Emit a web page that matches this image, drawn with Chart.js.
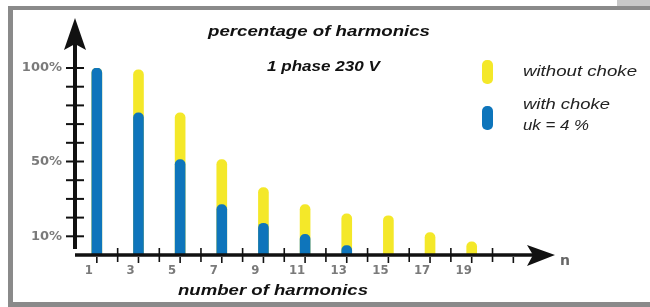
<!DOCTYPE html>
<html>
<head>
<meta charset="utf-8">
<script src="https://cdn.jsdelivr.net/npm/chart.js@4/dist/chart.umd.min.js"></script>
<style>
  html, body { margin: 0; padding: 0; background: #fff; }
  #wrap { position: relative; width: 650px; height: 307px; }
</style>
</head>
<body>
<div id="wrap"><canvas id="c" width="650" height="307"></canvas></div>
<script>
// ---- data ----
const harmonics = [1, 3, 5, 7, 9, 11, 13, 15, 17, 19];
const withoutChoke = [100, 99, 76, 51, 36, 27, 22, 21, 12, 7];
const withChoke = [100, 76, 51, 27, 17, 11, 5, null, null, null];
const yTickLabels = [10, 50, 100];
const seriesNames = ['without choke', 'with choke\nuk = 4 %'];
const titleText = 'percentage of harmonics';
const subtitleText = '1 phase 230 V';
const xTitleText = 'number of harmonics';
const xAxisName = 'n';

const YELLOW = '#f4e829';
const BLUE = '#0e75bb';

// draw text horizontally stretched to a given width (the reference type is wide)
function wideText(ctx, text, x, y, width) {
  const w = ctx.measureText(text).width;
  const sx = width / w;
  ctx.save();
  ctx.translate(x, y);
  ctx.scale(sx, 1);
  ctx.fillText(text, 0, 0);
  ctx.restore();
}

const deco = {
  id: 'deco',
  beforeDraw(chart) {
    const ctx = chart.ctx;
    ctx.save();
    ctx.fillStyle = '#fff';
    ctx.fillRect(0, 0, chart.width, chart.height);
    // frame
    ctx.fillStyle = '#8a8a8a';
    ctx.fillRect(8, 6, 642, 4);
    ctx.fillRect(8, 6, 5, 301);
    ctx.fillRect(8, 302, 642, 5);
    ctx.fillStyle = '#c8c8c8';
    ctx.fillRect(617, 0, 33, 6);
    ctx.restore();
  },
  afterDatasetsDraw(chart) {
    const ctx = chart.ctx;
    const xs = chart.scales.x, ys = chart.scales.y;
    const x0 = xs.getPixelForValue(0) - 1;
    const y0 = ys.getPixelForValue(0);
    ctx.save();
    ctx.fillStyle = '#111';
    ctx.strokeStyle = '#111';
    // y axis
    ctx.lineWidth = 4;
    ctx.beginPath();
    ctx.moveTo(x0, y0 - 6);
    ctx.lineTo(x0, 40);
    ctx.stroke();
    ctx.beginPath();
    ctx.moveTo(x0, 18);
    ctx.lineTo(x0 + 11, 50);
    ctx.lineTo(x0, 44);
    ctx.lineTo(x0 - 11, 50);
    ctx.closePath();
    ctx.fill();
    // y ticks
    ctx.lineWidth = 2;
    for (let v = 10; v <= 100; v += 10) {
      const py = ys.getPixelForValue(v);
      ctx.beginPath();
      ctx.moveTo(x0 - 9, py);
      ctx.lineTo(x0 + 9, py);
      ctx.stroke();
    }
    // x axis
    const tipX = xs.getPixelForValue(23);
    ctx.lineWidth = 3.5;
    ctx.beginPath();
    ctx.moveTo(x0, y0);
    ctx.lineTo(tipX - 20, y0);
    ctx.stroke();
    ctx.beginPath();
    ctx.moveTo(tipX, y0);
    ctx.lineTo(tipX - 28, y0 - 10);
    ctx.lineTo(tipX - 22, y0);
    ctx.lineTo(tipX - 28, y0 + 11);
    ctx.closePath();
    ctx.fill();
    // x ticks
    ctx.lineWidth = 1.6;
    for (let n = 1; n <= 21; n++) {
      const px = xs.getPixelForValue(n);
      ctx.beginPath();
      if (n % 2 === 0) {
        ctx.moveTo(px, y0 - 7);
        ctx.lineTo(px, y0 + 7);
      } else {
        ctx.moveTo(px, y0 + 2);
        ctx.lineTo(px, y0 + 8);
      }
      ctx.stroke();
    }
    // texts
    ctx.fillStyle = '#111';
    ctx.textBaseline = 'middle';
    ctx.textAlign = 'left';
    ctx.font = "bold italic 15px 'Liberation Sans', Arial, sans-serif";
    wideText(ctx, titleText, 208, 32, 222);
    wideText(ctx, subtitleText, 267, 67, 113);
    wideText(ctx, xTitleText, 178, 291, 190);
    ctx.fillStyle = '#666';
    ctx.font = "bold 14px 'DejaVu Sans', sans-serif";
    ctx.fillText(xAxisName, 560, 261);
    // legend
    const ds = chart.data.datasets;
    const markerY = [72, 118];
    const textY = [[72], [105, 126]];
    const textW = [[114], [87, 66]];
    const order = [1, 0];
    order.forEach((di, i) => {
      const d = ds[di];
      ctx.fillStyle = d.backgroundColor;
      ctx.beginPath();
      ctx.roundRect(482, markerY[i] - 12, 11, 24, 5);
      ctx.fill();
      ctx.fillStyle = '#222';
      ctx.font = "italic 15px 'Liberation Sans', Arial, sans-serif";
      const lines = d.label.split('\n');
      lines.forEach((ln, k) => wideText(ctx, ln, 523, textY[i][k], textW[i][k]));
    });
    ctx.restore();
  }
};

new Chart(document.getElementById('c'), {
  type: 'bar',
  data: {
    datasets: [
      {
        label: seriesNames[1],
        data: harmonics.map((n, i) => ({ x: n, y: withChoke[i] })),
        backgroundColor: BLUE,
        order: 0,
        grouped: false,
        barThickness: 10,
        borderRadius: 5,
        borderSkipped: 'start'
      },
      {
        label: seriesNames[0],
        data: harmonics.map((n, i) => ({ x: n, y: withoutChoke[i] })),
        backgroundColor: YELLOW,
        order: 1,
        grouped: false,
        barThickness: 10,
        borderRadius: 5,
        borderSkipped: 'start'
      }
    ]
  },
  options: {
    responsive: false,
    animation: false,
    devicePixelRatio: 1,
    layout: { padding: { top: 68, left: 0, right: 95, bottom: 22 } },
    plugins: { legend: { display: false }, tooltip: { enabled: false }, title: { display: false } },
    scales: {
      x: {
        type: 'linear', min: 0, max: 23, offset: false,
        grid: { display: false, drawTicks: false, offset: false },
        border: { display: false },
        afterFit(s) { s.height = 30; },
        ticks: {
          stepSize: 1, autoSkip: false, maxRotation: 0, padding: 8, labelOffset: -8,
          color: '#7a7a7a',
          font: { family: "'DejaVu Sans Condensed', 'DejaVu Sans', sans-serif", weight: 'bold', size: 13 },
          callback: v => harmonics.includes(v) ? String(v) : ''
        }
      },
      y: {
        min: 0, max: 100,
        grid: { display: false, drawTicks: false },
        border: { display: false },
        afterFit(s) { s.width = 76; },
        ticks: {
          stepSize: 10, autoSkip: false, padding: 14,
          color: '#7a7a7a',
          font: { family: "'DejaVu Sans', sans-serif", weight: 'bold', size: 13 },
          callback: v => yTickLabels.includes(v) ? v + '%' : ''
        }
      }
    }
  },
  plugins: [deco]
});
</script>
</body>
</html>
